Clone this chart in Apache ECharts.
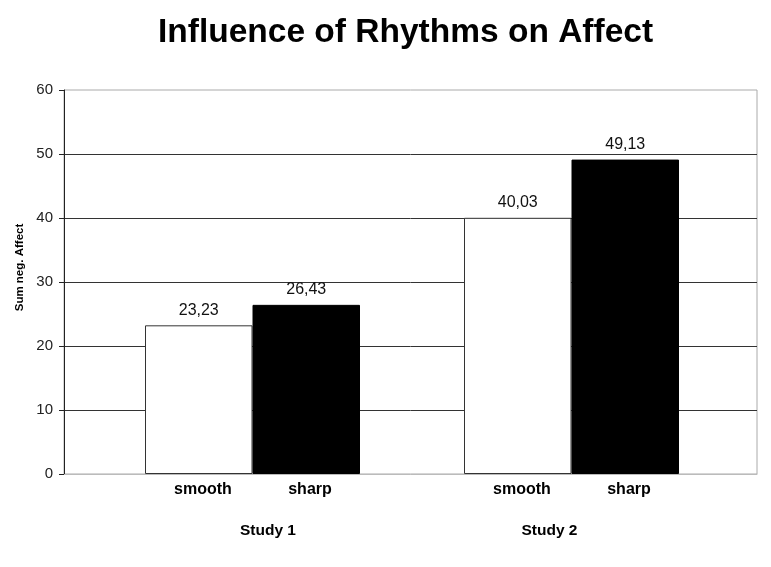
<!DOCTYPE html>
<html>
<head>
<meta charset="utf-8">
<script src="https://cdn.jsdelivr.net/npm/echarts@6/dist/echarts.min.js"></script>
<style>html,body{margin:0;padding:0;background:#fff;}#c{width:771px;height:567px;}</style>
</head>
<body>
<div id="c"></div>
<script>
const studies = ['Study 1', 'Study 2'];
const rhythms = ['smooth', 'sharp'];
const smoothValues = [23.23, 40.03];
const sharpValues = [26.43, 49.13];
const yTicks = { min: 0, max: 60, interval: 10 };

const font = "'Liberation Sans', Arial, sans-serif";
const chart = echarts.init(document.getElementById('c'));
const fmt = p => p.value.toFixed(2).replace('.', ',');

chart.setOption({
  animation: false,
  backgroundColor: '#fff',
  title: {
    text: 'Influence of Rhythms on Affect',
    left: 158, top: 16, padding: 0,
    textStyle: { fontFamily: font, fontSize: 33.5, fontWeight: 'bold', color: '#000' }
  },
  grid: [
    { left: 64, right: 14, top: 90, bottom: 93, show: true, borderColor: '#aaa', borderWidth: 1, backgroundColor: 'transparent' },
    { left: 93, right: 40, top: 90, bottom: 93 }
  ],
  xAxis: [
    { gridIndex: 0, type: 'value', min: 0, max: 1,
      axisLine: { show: true, onZero: false, lineStyle: { color: '#bbb', width: 1 } },
      axisTick: { show: false }, axisLabel: { show: false }, splitLine: { show: false } },
    { gridIndex: 1, type: 'category', data: studies,
      axisLine: { show: false }, axisTick: { show: false },
      axisLabel: {
        margin: 8,
        fontFamily: font,
        formatter: (v, i) => `{s|${rhythms[0]}}{p|${rhythms[1]}}\n{t${i}|${v}}`,
        rich: {
          s: { width: 107, align: 'center', fontSize: 16, fontWeight: 'bold', lineHeight: 16, color: '#000', fontFamily: font, padding: [0, 0, 0, 8] },
          p: { width: 107, align: 'center', fontSize: 16, fontWeight: 'bold', lineHeight: 16, color: '#000', fontFamily: font },
          t0: { fontSize: 15.5, fontWeight: 'bold', lineHeight: 16, color: '#000', fontFamily: font, padding: [50, 0, 0, 31] },
          t1: { fontSize: 15.5, fontWeight: 'bold', lineHeight: 16, color: '#000', fontFamily: font, padding: [50, 44, 0, 0] }
        }
      } }
  ],
  yAxis: [
    { gridIndex: 0, type: 'value', min: yTicks.min, max: yTicks.max, interval: yTicks.interval,
      name: 'Sum neg. Affect', nameLocation: 'middle', nameGap: 37,
      nameTextStyle: { fontFamily: font, fontSize: 11.5, fontWeight: 'bold', color: '#000', padding: [0, 0, 0, 29] },
      axisLine: { show: true, lineStyle: { color: '#222', width: 1 } },
      axisTick: { show: true, length: 5, lineStyle: { color: '#222' } },
      axisLabel: { margin: 11, fontFamily: font, fontSize: 15, color: '#222' },
      splitLine: { show: true, showMinLine: false, showMaxLine: false, lineStyle: { color: '#333', width: 1 } } },
    { gridIndex: 1, type: 'value', min: yTicks.min, max: yTicks.max, interval: yTicks.interval, show: false }
  ],
  series: [
    { name: rhythms[0], type: 'bar', xAxisIndex: 1, yAxisIndex: 1, data: smoothValues,
      barWidth: 107.5, barGap: '0%',
      itemStyle: { color: '#fff', borderColor: '#333', borderWidth: 1 },
      label: { show: true, position: 'top', distance: 7, formatter: fmt, fontFamily: font, fontSize: 16, color: '#111' } },
    { name: rhythms[1], type: 'bar', xAxisIndex: 1, yAxisIndex: 1, data: sharpValues,
      barWidth: 107.5, barGap: '0%',
      itemStyle: { color: '#000', borderColor: '#000', borderWidth: 1 },
      label: { show: true, position: 'top', distance: 7, formatter: fmt, fontFamily: font, fontSize: 16, color: '#111' } }
  ]
});
</script>
</body>
</html>
